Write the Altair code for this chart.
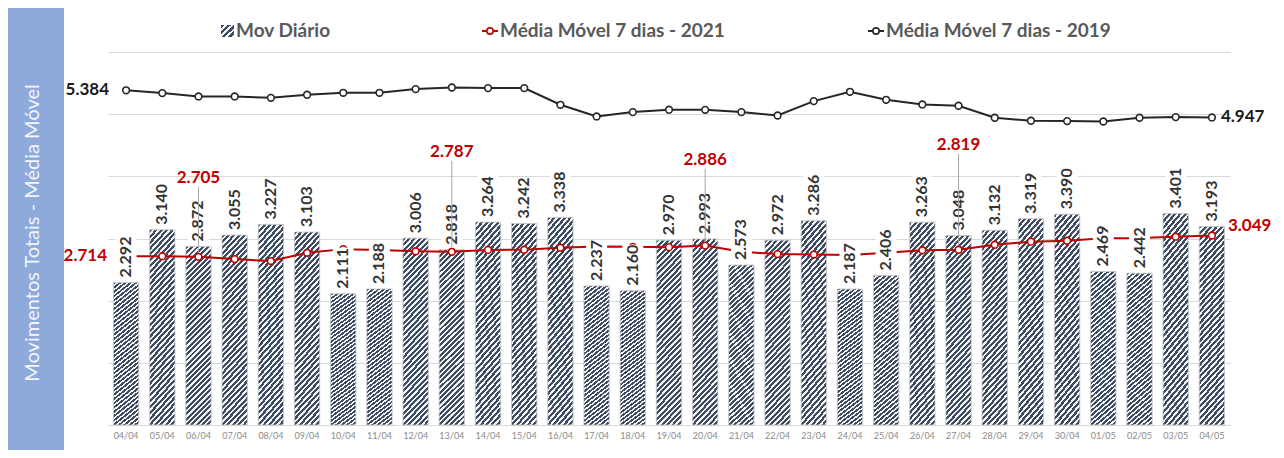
import altair as alt
import pandas as pd

# ---------------- data ----------------
dates = ["04/04", "05/04", "06/04", "07/04", "08/04", "09/04", "10/04", "11/04",
         "12/04", "13/04", "14/04", "15/04", "16/04", "17/04", "18/04", "19/04",
         "20/04", "21/04", "22/04", "23/04", "24/04", "25/04", "26/04", "27/04",
         "28/04", "29/04", "30/04", "01/05", "02/05", "03/05", "04/05"]

mov_diario = [2292, 3140, 2872, 3055, 3227, 3103, 2111, 2188,
              3006, 2818, 3264, 3242, 3338, 2237, 2160, 2970,
              2993, 2573, 2972, 3286, 2187, 2406, 3263, 3048,
              3132, 3319, 3390, 2469, 2442, 3401, 3193]

media_movel_2021 = [2714, 2715, 2705, 2669, 2637, 2770, 2829, 2814,
                    2795, 2787, 2817, 2819, 2852, 2870, 2866, 2861,
                    2886, 2788, 2749, 2742, 2734, 2770, 2811, 2819,
                    2899, 2949, 2964, 3004, 3009, 3029, 3049]

media_movel_2019 = [5384, 5339, 5285, 5285, 5263, 5312, 5344, 5344,
                    5403, 5429, 5419, 5419, 5151, 4963, 5033, 5072,
                    5070, 5033, 4979, 5210, 5360, 5231, 5156, 5135,
                    4942, 4894, 4889, 4882, 4942, 4953, 4947]

series_names = ["Mov Diário", "Média Móvel 7 dias - 2021", "Média Móvel 7 dias - 2019"]
y_title = "Movimentos Totais - Média Móvel"

# annotated points of the 2021 moving average (date, label lift in px)
annot_2021 = [("06/04", 79), ("13/04", 100), ("20/04", 86), ("27/04", 105)]


def fmt(v):
    return f"{v / 1000:.3f}"


df = pd.DataFrame({"date": dates, "mov": mov_diario,
                   "ma21": media_movel_2021, "ma19": media_movel_2019})
df["mov_lbl"] = df["mov"].map(fmt)
df["ma21_lbl"] = df["ma21"].map(fmt)
df["ma19_lbl"] = df["ma19"].map(fmt)

# ---------------- styling ----------------
W, H = 1122, 373
FONT = "Lato"
RED = "#c00000"
BLACK = "#262626"
BLUE = "#8eaadb"
HATCH_DARK = "#3f4b60"
HATCH_LIGHT = "#f4f5f7"


def hatch(n, x2, y2, frac=0.55):
    stops = []
    for k in range(n):
        a, m, b = k / n, (k + frac) / n, (k + 1) / n
        stops += [{"offset": a, "color": HATCH_DARK}, {"offset": m, "color": HATCH_DARK},
                  {"offset": m, "color": HATCH_LIGHT}, {"offset": b, "color": HATCH_LIGHT}]
    return {"gradient": "linear", "x1": 0, "y1": 0, "x2": x2, "y2": y2, "stops": stops}


bar_fill = hatch(38, 0.1587, 1.120)
swatch_fill = hatch(4, 1, 1)

y_axis = alt.Axis(values=list(range(0, 7000, 1000)), grid=True, gridColor="#d9d9d9",
                  gridWidth=1, labels=False, ticks=False, domain=False, title=None)
x_axis = alt.Axis(labelAngle=0, labelFontSize=9, labelColor="#8a8a8a", labelFont=FONT,
                  ticks=False, domain=True, domainColor="#d9d9d9", grid=False,
                  title=None, labelPadding=6)
y_scale = alt.Scale(domain=[0, 6000], nice=False, zero=True)
X = alt.X("date:N", sort=dates, scale=alt.Scale(paddingInner=0.3, paddingOuter=0.15), axis=x_axis)


def Y(field):
    return alt.Y(f"{field}:Q", scale=y_scale, axis=y_axis)


base = alt.Chart(df)
one = alt.Chart(pd.DataFrame({"k": [0]}))

# frame: blue band with title
band = one.mark_rect(color=BLUE).encode(
    x=alt.value(-100), x2=alt.value(-44), y=alt.value(-44), y2=alt.value(398))
title = one.mark_text(angle=270, font=FONT, fontSize=20, color="#f2f5fb",
                      align="center", baseline="middle").encode(
    x=alt.value(-75), y=alt.value(181), text=alt.value(y_title))

bars = base.mark_bar(color=bar_fill, stroke="#c4c4c4", strokeWidth=0.8, opacity=1).encode(
    x=X, y=Y("mov"))

line19 = base.mark_line(color=BLACK, strokeWidth=2).encode(x=X, y=Y("ma19"))
pts19 = base.mark_point(shape="circle", filled=True, fill="white", stroke=BLACK,
                        strokeWidth=1.6, size=45, opacity=1).encode(x=X, y=Y("ma19"))
line21 = base.mark_line(color=RED, strokeWidth=2).encode(x=X, y=Y("ma21"))
pts21 = base.mark_point(shape="circle", filled=True, fill="white", stroke=RED,
                        strokeWidth=1.6, size=45, opacity=1).encode(x=X, y=Y("ma21"))

# label backgrounds (white boxes) and bar value labels
boxes = base.mark_bar(color="white", size=21, yOffset=-2, y2Offset=-46, opacity=1).encode(
    x=X, y=Y("mov"), y2="mov:Q")
bar_lbl = base.mark_text(angle=270, align="left", baseline="middle", dx=5, font=FONT,
                         fontSize=16, fontWeight="bold", color="#333333").encode(
    x=X, y=Y("mov"), text="mov_lbl:N")

layers = [band, title, bars, line19, pts19, line21, pts21, boxes, bar_lbl]

# 2021 annotations
for d, lift in annot_2021:
    sub = base.transform_filter(alt.datum.date == d)
    layers.append(sub.mark_rule(color="#a6a6a6", strokeWidth=1, yOffset=-4,
                                y2Offset=-(lift - 9)).encode(x=X, y=Y("ma21"), y2="ma21:Q"))
    layers.append(sub.mark_text(align="center", baseline="middle", dy=-lift, font=FONT,
                                fontSize=17, fontWeight="bold", color=RED).encode(
        x=X, y=Y("ma21"), text="ma21_lbl:N"))

first = base.transform_filter(alt.datum.date == dates[0])
last = base.transform_filter(alt.datum.date == dates[-1])
layers += [
    first.mark_text(align="right", baseline="middle", dx=-19, font=FONT, fontSize=17,
                    fontWeight="bold", color=RED).encode(x=X, y=Y("ma21"), text="ma21_lbl:N"),
    last.mark_text(align="left", baseline="middle", dx=16, dy=-9, font=FONT, fontSize=17,
                   fontWeight="bold", color=RED).encode(x=X, y=Y("ma21"), text="ma21_lbl:N"),
    first.mark_text(align="right", baseline="middle", dx=-17, font=FONT, fontSize=17,
                    fontWeight="bold", color="#1a1a1a").encode(x=X, y=Y("ma19"), text="ma19_lbl:N"),
    last.mark_text(align="left", baseline="middle", dx=9, font=FONT, fontSize=17,
                   fontWeight="bold", color="#1a1a1a").encode(x=X, y=Y("ma19"), text="ma19_lbl:N"),
]

# legend (drawn manually above the plot area)
LY = -21
leg_txt = dict(align="left", baseline="middle", font=FONT, fontSize=19, fontWeight="bold",
               color="#595959")
layers += [
    one.mark_rect(color=swatch_fill).encode(x=alt.value(113), x2=alt.value(126),
                                            y=alt.value(LY - 6), y2=alt.value(LY + 6)),
    one.mark_text(**leg_txt).encode(x=alt.value(128), y=alt.value(LY), text=alt.value(series_names[0])),
    one.mark_rule(color=RED, strokeWidth=2).encode(x=alt.value(374), x2=alt.value(390), y=alt.value(LY)),
    one.mark_point(shape="circle", filled=True, fill="white", stroke=RED, strokeWidth=1.6,
                   size=40, opacity=1).encode(x=alt.value(382), y=alt.value(LY)),
    one.mark_text(**leg_txt).encode(x=alt.value(392), y=alt.value(LY), text=alt.value(series_names[1])),
    one.mark_rule(color=BLACK, strokeWidth=2).encode(x=alt.value(760), x2=alt.value(776), y=alt.value(LY)),
    one.mark_point(shape="circle", filled=True, fill="white", stroke=BLACK, strokeWidth=1.6,
                   size=40, opacity=1).encode(x=alt.value(768), y=alt.value(LY)),
    one.mark_text(**leg_txt).encode(x=alt.value(778), y=alt.value(LY), text=alt.value(series_names[2])),
]

chart = alt.layer(*layers).properties(
    width=W, height=H,
    padding={"left": 100, "top": 44, "right": 46, "bottom": 25},
    autosize=alt.AutoSizeParams(type="none"),
    background="white",
).configure_view(stroke=None)

chart.save("out.html", embed_options={"renderer": "svg", "actions": False})
